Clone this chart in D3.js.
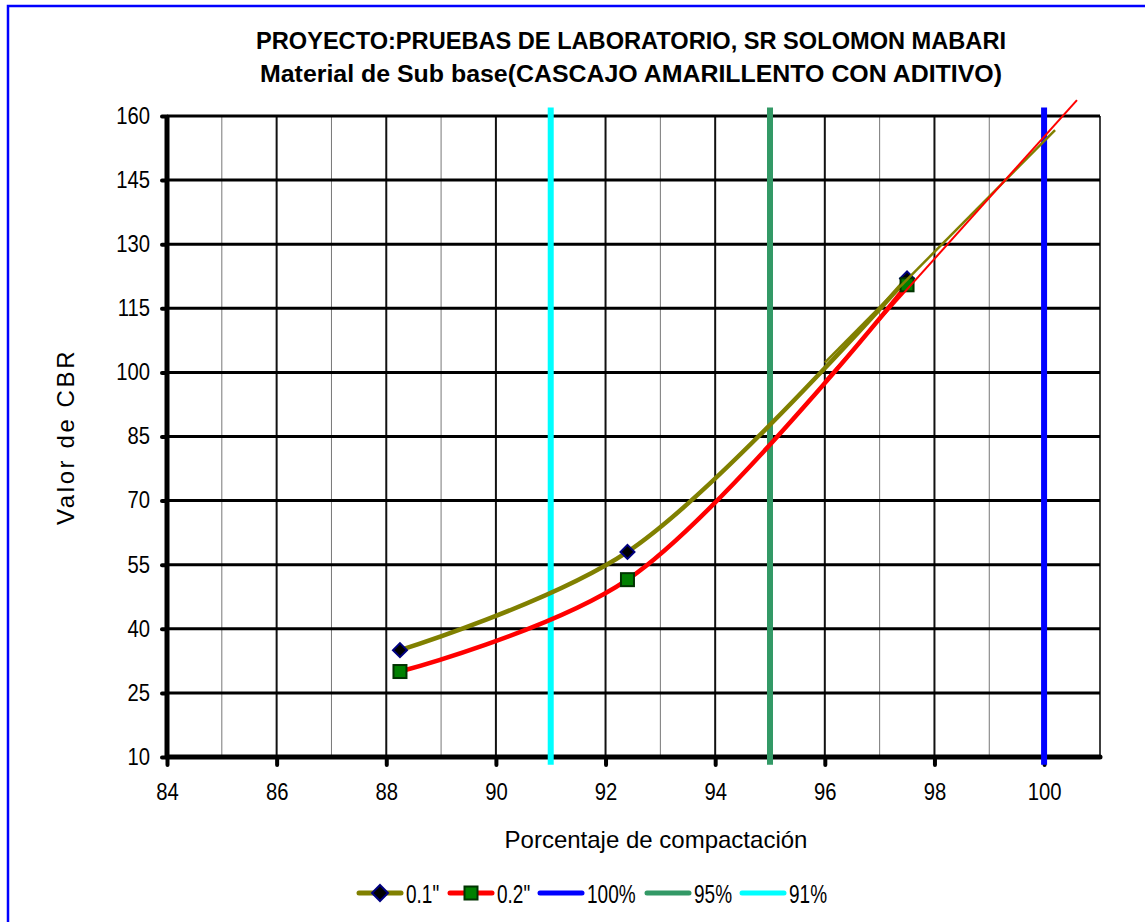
<!DOCTYPE html>
<html>
<head>
<meta charset="utf-8">
<script src="https://cdn.jsdelivr.net/npm/d3@7"></script>
<style>
  body { margin: 0; background: #fff; }
  text { font-family: "Liberation Sans", Arial, sans-serif; }
</style>
</head>
<body>
<div id="chart"></div>
<script>
// data
var compaction = [88.25, 92.4, 97.5];
var cbr01 = [35, 58, 122];
var cbr02 = [30, 51.5, 120.5];
// thin trend extensions
var trend01X = [96, 100.2], trend01Y = [102.3, 156.7];
var trend02X = [96, 100.6], trend02Y = [98, 163.7];
// vertical reference lines
var refNames = ['100%', '95%', '91%'];
var refValues = [100, 95, 91];
var refColors = ['#0000ff', '#339966', '#00ffff'];
var refSpan = [8.2, 162];
var xTicks = [84, 86, 88, 90, 92, 94, 96, 98, 100];
var yTicks = [10, 25, 40, 55, 70, 85, 100, 115, 130, 145, 160];

var W = 1145, H = 922;
var svg = d3.select('#chart').append('svg')
  .attr('width', W).attr('height', H);

// narrow look of the original font
function squeeze(sel, f) {
  sel.each(function() {
    var w = this.getComputedTextLength();
    d3.select(this).attr('textLength', w * f).attr('lengthAdjust', 'spacingAndGlyphs');
  });
}

svg.append('rect')
  .attr('x', 8).attr('y', 6).attr('width', 1160).attr('height', 940)
  .attr('fill', 'none').attr('stroke', '#0000ff').attr('stroke-width', 2.5);

var x = d3.scaleLinear().domain([84, 101.02]).range([167, 1100]);
var y = d3.scaleLinear().domain([10, 160]).range([757, 116]);

// minor vertical grid
svg.append('g').selectAll('line')
  .data(d3.range(85, 101, 2))
  .enter().append('line')
  .attr('x1', d => x(d)).attr('x2', d => x(d))
  .attr('y1', y(160)).attr('y2', y(10))
  .attr('stroke', '#777').attr('stroke-width', 1);
// major vertical grid
svg.append('g').selectAll('line')
  .data(xTicks.slice(1))
  .enter().append('line')
  .attr('x1', d => x(d)).attr('x2', d => x(d))
  .attr('y1', y(160)).attr('y2', y(10))
  .attr('stroke', '#111').attr('stroke-width', 2);
// right border
svg.append('line')
  .attr('x1', x(101.02)).attr('x2', x(101.02))
  .attr('y1', y(160)).attr('y2', y(10))
  .attr('stroke', '#000').attr('stroke-width', 1.5);
// horizontal grid
svg.append('g').selectAll('line')
  .data(yTicks.slice(1))
  .enter().append('line')
  .attr('x1', x(84)).attr('x2', x(101.02))
  .attr('y1', d => y(d)).attr('y2', d => y(d))
  .attr('stroke', '#000').attr('stroke-width', 3);

// axes
var yAxis = svg.append('g')
  .attr('transform', 'translate(' + x(84) + ',0)')
  .call(d3.axisLeft(y).tickValues(yTicks).tickSize(5).tickPadding(12));
var xAxis = svg.append('g')
  .attr('transform', 'translate(0,' + y(10) + ')')
  .call(d3.axisBottom(x).tickValues(xTicks).tickSize(8).tickPadding(19));
[yAxis, xAxis].forEach(function(a) {
  a.select('.domain').remove();
  a.selectAll('.tick line').attr('stroke', '#000').attr('stroke-width', 4)
    .attr('stroke-linecap', 'round');
  a.selectAll('.tick text').attr('font-size', 23).attr('fill', '#000')
    .attr('font-family', null);
  squeeze(a.selectAll('.tick text'), 0.88);
});
xAxis.selectAll('.tick text').attr('dy', '0.71em');
svg.append('line')
  .attr('x1', x(84)).attr('x2', x(84)).attr('y1', y(160) - 1).attr('y2', y(10))
  .attr('stroke', '#000').attr('stroke-width', 5);
svg.append('line')
  .attr('x1', x(84)).attr('x2', x(101.02)).attr('y1', y(10)).attr('y2', y(10))
  .attr('stroke', '#000').attr('stroke-width', 5).attr('stroke-linecap', 'round');

// reference lines
svg.append('g').selectAll('line')
  .data(refValues)
  .enter().append('line')
  .attr('x1', d => x(d)).attr('x2', d => x(d))
  .attr('y1', y(refSpan[1])).attr('y2', y(refSpan[0]))
  .attr('stroke', (d, i) => refColors[i]).attr('stroke-width', 6);

// series
var line = d3.line().curve(d3.curveCatmullRom.alpha(0.5))
  .x(d => x(d[0])).y(d => y(d[1]));
var pts01 = compaction.map((c, i) => [c, cbr01[i]]);
var pts02 = compaction.map((c, i) => [c, cbr02[i]]);
svg.append('path').attr('d', line(pts01)).attr('fill', 'none')
  .attr('stroke', '#808000').attr('stroke-width', 4.5);
svg.append('path').attr('d', line(pts02)).attr('fill', 'none')
  .attr('stroke', '#ff0000').attr('stroke-width', 4.5);

function diamond(g, cx, cy, s) {
  g.append('path')
    .attr('d', 'M' + cx + ',' + (cy - s) + 'L' + (cx + s) + ',' + cy + 'L' + cx + ',' + (cy + s) + 'L' + (cx - s) + ',' + cy + 'Z')
    .attr('fill', '#000').attr('stroke', '#000080').attr('stroke-width', 2);
}
function square(g, cx, cy, s) {
  g.append('rect').attr('x', cx - s).attr('y', cy - s)
    .attr('width', 2 * s).attr('height', 2 * s)
    .attr('fill', '#008000').attr('stroke', '#003300').attr('stroke-width', 2);
}
var marks = svg.append('g');
pts01.forEach(p => diamond(marks, x(p[0]), y(p[1]), 7));
pts02.forEach(p => square(marks, x(p[0]), y(p[1]), 6.5));

// trend lines
var straight = d3.line().x(d => x(d[0])).y(d => y(d[1]));
svg.append('path').attr('d', straight(trend01X.map((v, i) => [v, trend01Y[i]])))
  .attr('fill', 'none').attr('stroke', '#808000').attr('stroke-width', 2.5);
svg.append('path').attr('d', straight(trend02X.map((v, i) => [v, trend02Y[i]])))
  .attr('fill', 'none').attr('stroke', '#ff0000').attr('stroke-width', 2);

// titles
svg.append('text').attr('x', 631).attr('y', 49).attr('text-anchor', 'middle')
  .attr('font-size', 23).attr('font-weight', 'bold')
  .attr('textLength', 750).attr('lengthAdjust', 'spacingAndGlyphs')
  .text('PROYECTO:PRUEBAS DE LABORATORIO, SR SOLOMON MABARI');
svg.append('text').attr('x', 631).attr('y', 82).attr('text-anchor', 'middle')
  .attr('font-size', 23).attr('font-weight', 'bold')
  .attr('textLength', 742).attr('lengthAdjust', 'spacingAndGlyphs')
  .text('Material de Sub base(CASCAJO AMARILLENTO CON ADITIVO)');
svg.append('text').attr('x', 656).attr('y', 848).attr('text-anchor', 'middle')
  .attr('font-size', 24).text('Porcentaje de compactación');
svg.append('text').attr('transform', 'translate(74,437) rotate(-90)')
  .attr('text-anchor', 'middle').attr('font-size', 24)
  .attr('letter-spacing', 2.6).text('Valor de CBR');

// legend
var legNames = ['0.1"', '0.2"'].concat(refNames);
var legColors = ['#808000', '#ff0000'].concat(refColors);
var legX = [357, 448, 538, 645, 740];
var leg = svg.append('g');
legNames.forEach(function(n, i) {
  leg.append('line').attr('x1', legX[i] + 2).attr('x2', legX[i] + 44)
    .attr('y1', 893).attr('y2', 893)
    .attr('stroke', legColors[i]).attr('stroke-width', 5).attr('stroke-linecap', 'round');
  if (i === 0) diamond(leg, legX[i] + 23, 893, 8);
  if (i === 1) square(leg, legX[i] + 23, 893, 6.5);
  leg.append('text').attr('x', legX[i] + 49).attr('y', 903)
    .attr('font-size', 25).text(n);
});
squeeze(leg.selectAll('text'), 0.76);
</script>
</body>
</html>
